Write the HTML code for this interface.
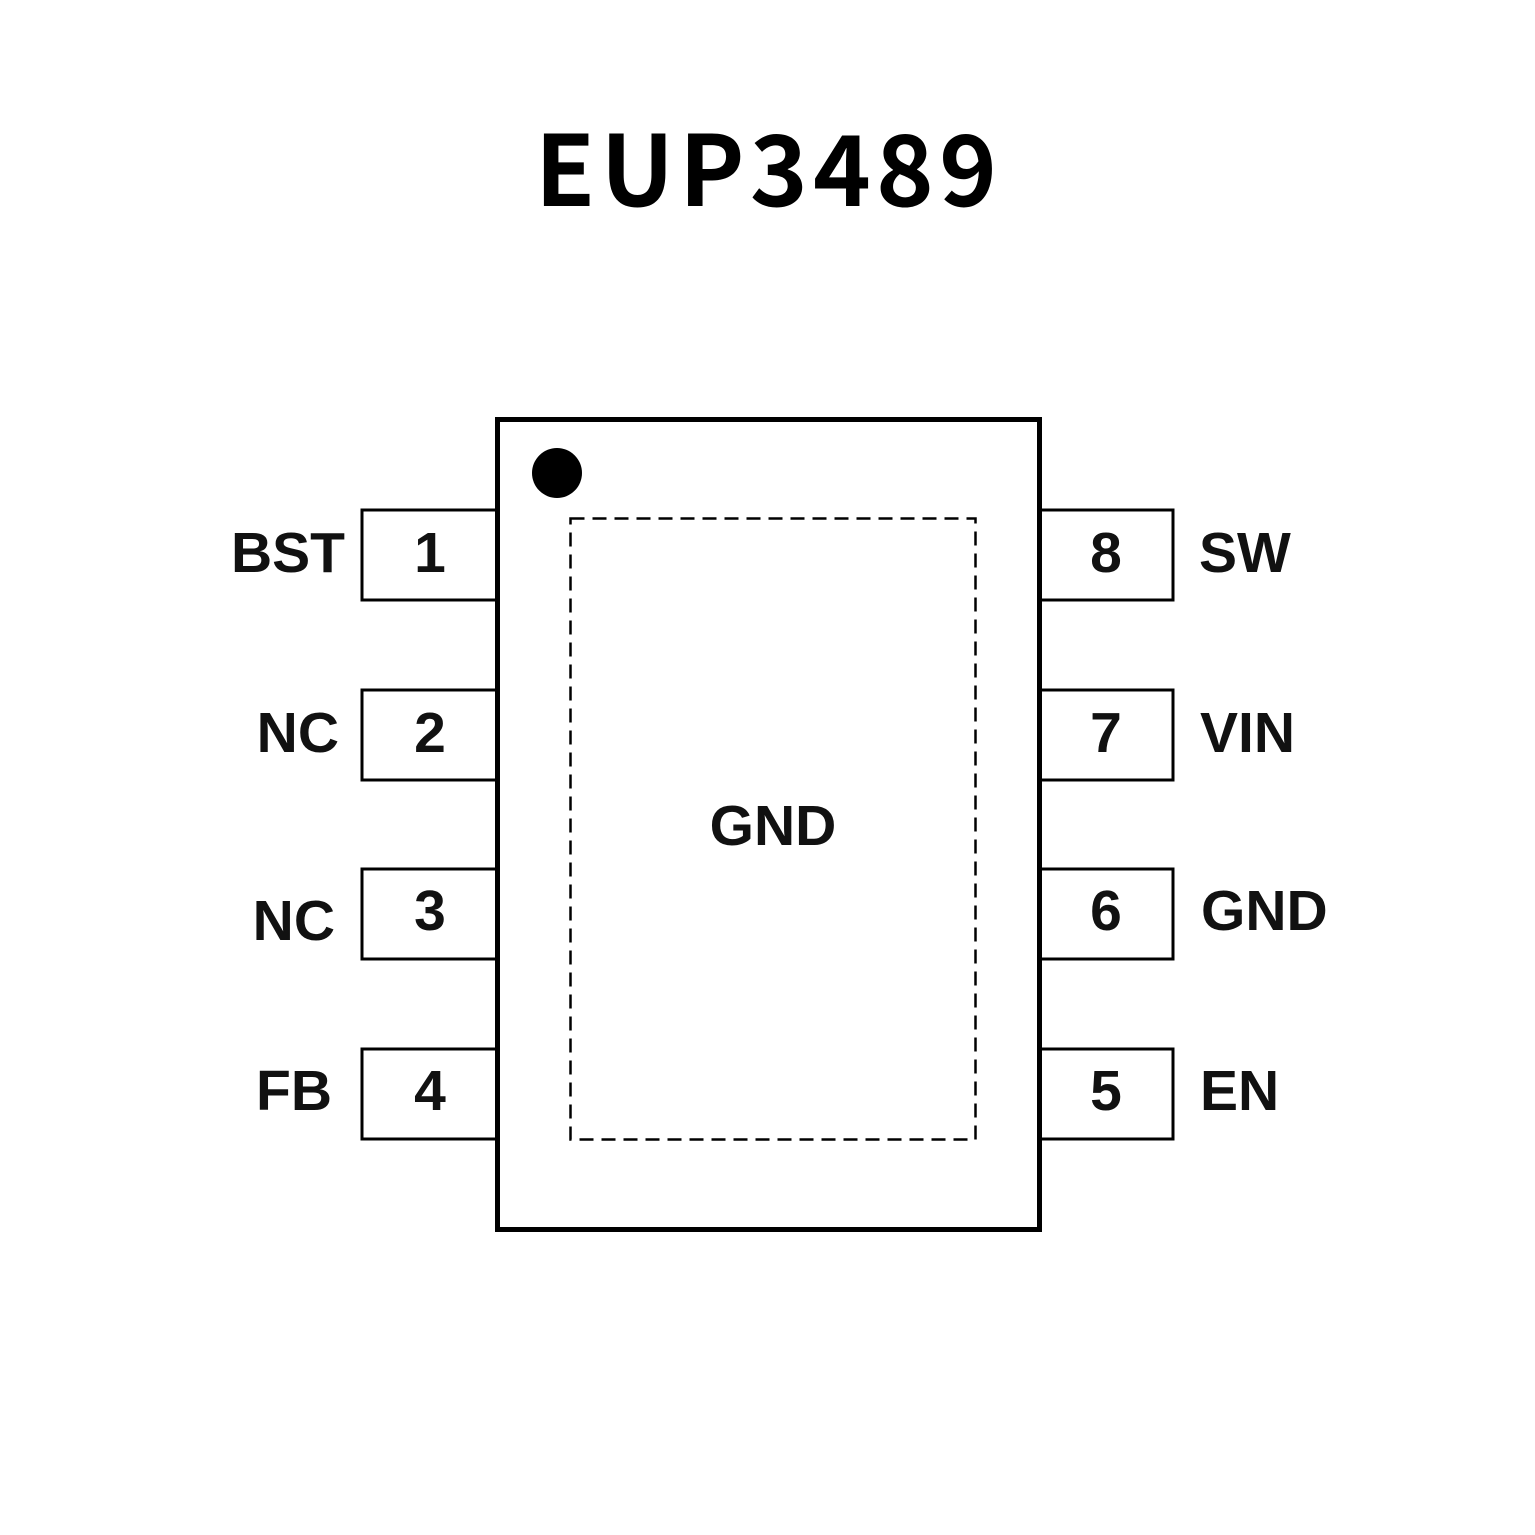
<!DOCTYPE html>
<html><head><meta charset="utf-8"><style>
html,body{margin:0;padding:0;background:#fff;}
svg{display:block;}
.t{font-family:"Liberation Sans",Arial,sans-serif;font-weight:bold;font-size:57px;fill:#111;}
</style></head><body>
<svg width="1535" height="1535" viewBox="0 0 1535 1535" xmlns="http://www.w3.org/2000/svg">
<rect width="1535" height="1535" fill="#fff"/>
<text x="766" y="206" text-anchor="middle" font-family="'Noto Sans CJK SC','DejaVu Sans',sans-serif" font-weight="bold" font-size="98" textLength="462" lengthAdjust="spacing" fill="#000">EUP3489</text>
<g fill="#fff" stroke="#000" stroke-width="3">
<rect x="362" y="510" width="135" height="90"/>
<rect x="362" y="690" width="135" height="90"/>
<rect x="362" y="869" width="135" height="90"/>
<rect x="362" y="1049" width="135" height="90"/>
<rect x="1040" y="510" width="133" height="90"/>
<rect x="1040" y="690" width="133" height="90"/>
<rect x="1040" y="869" width="133" height="90"/>
<rect x="1040" y="1049" width="133" height="90"/>
</g>
<rect x="497.5" y="419.5" width="542" height="810" fill="#fff" stroke="#000" stroke-width="5"/>
<rect x="570.5" y="518.5" width="405" height="621" fill="none" stroke="#000" stroke-width="2.5" stroke-dasharray="14 8"/>
<circle cx="557" cy="473" r="25" fill="#000"/>
<g class="t">
<text x="430" y="572" text-anchor="middle">1</text>
<text x="430" y="752" text-anchor="middle">2</text>
<text x="430" y="930" text-anchor="middle">3</text>
<text x="430" y="1110" text-anchor="middle">4</text>
<text x="1106" y="572" text-anchor="middle">8</text>
<text x="1106" y="752" text-anchor="middle">7</text>
<text x="1106" y="930" text-anchor="middle">6</text>
<text x="1106" y="1110" text-anchor="middle">5</text>
<text x="345" y="572" text-anchor="end">BST</text>
<text x="339" y="752" text-anchor="end">NC</text>
<text x="335" y="940" text-anchor="end">NC</text>
<text x="332" y="1110" text-anchor="end">FB</text>
<text x="1199" y="572">SW</text>
<text x="1200" y="752">VIN</text>
<text x="1201" y="930">GND</text>
<text x="1200" y="1110">EN</text>
<text x="773" y="845" text-anchor="middle">GND</text>
</g>
</svg>
</body></html>
